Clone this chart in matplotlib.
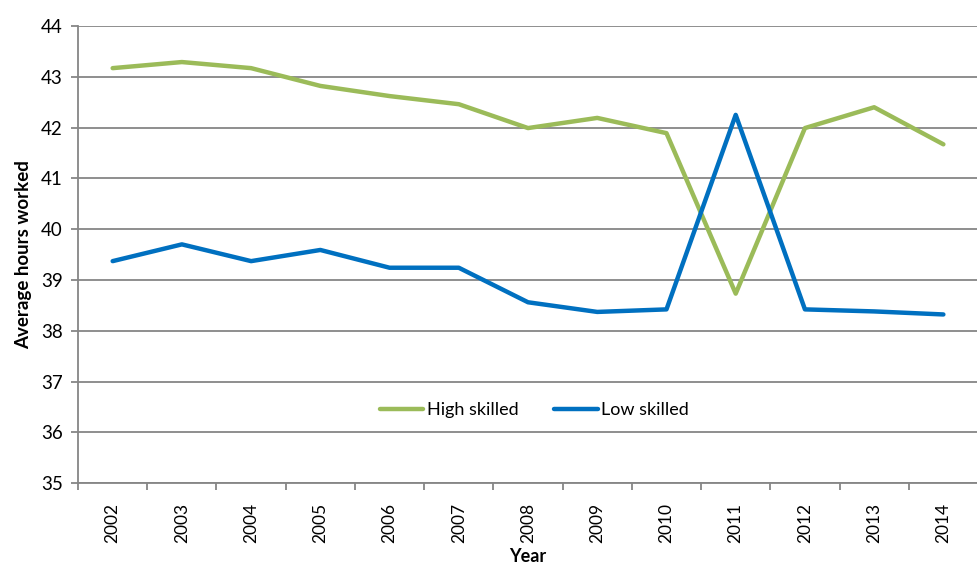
import matplotlib.pyplot as plt
import numpy as np

plt.rcParams['font.family'] = ['Lato', 'DejaVu Sans']

# average weekly hours by skill level
years = ['2002', '2003', '2004', '2005', '2006', '2007', '2008',
         '2009', '2010', '2011', '2012', '2013', '2014']
high_skilled = [43.17, 43.29, 43.17, 42.82, 42.62, 42.46, 41.99,
                42.19, 41.89, 38.73, 41.99, 42.40, 41.67]
low_skilled = [39.37, 39.70, 39.37, 39.59, 39.24, 39.24, 38.56,
               38.37, 38.42, 42.25, 38.42, 38.38, 38.32]

GREEN = '#9BBB59'
BLUE = '#0070C0'
GRID = '#868686'

fig = plt.figure(figsize=(9.78, 5.65), dpi=100)
ax = fig.add_axes([0.0798, 0.145, 0.9202, 0.809])

x = np.arange(len(years))
ax.plot(x, high_skilled, color=GREEN, linewidth=3.2, solid_capstyle='round',
        solid_joinstyle='round', label='High skilled', zorder=3)
ax.plot(x, low_skilled, color=BLUE, linewidth=3.2, solid_capstyle='round',
        solid_joinstyle='round', label='Low skilled', zorder=3)

ax.set_xlim(-0.5, len(years) - 0.5)
ax.set_ylim(35, 44)
ax.set_yticks(range(35, 45))
ax.yaxis.grid(True, color=GRID, linewidth=1.3)
ax.set_axisbelow(True)

# category labels centred, tick marks on the boundaries
ax.set_xticks(x)
ax.set_xticklabels(years, rotation=90)
ax.set_xticks(np.arange(-0.5, len(years)), minor=True)
ax.tick_params(axis='x', which='major', length=0, pad=14, labelsize=12.5, colors='black')
ax.tick_params(axis='x', which='minor', length=5, width=1.3, color=GRID, direction='out')
ax.tick_params(axis='y', length=5, width=1.3, color=GRID, pad=6, labelsize=13.5)

for side in ['top', 'right']:
    ax.spines[side].set_visible(False)
for side in ['left', 'bottom']:
    ax.spines[side].set_color(GRID)
    ax.spines[side].set_linewidth(1.3)

ax.set_ylabel('Average hours worked', fontsize=13.5, fontweight='bold', labelpad=6)
ax.set_xlabel('Year', fontsize=13, fontweight='bold', labelpad=4)

ax.legend(loc='center', bbox_to_anchor=(0.507, 0.16), ncol=2, frameon=False,
          fontsize=13, handlelength=2.4, handletextpad=0.2, columnspacing=2.0)

fig.savefig('out.png', dpi=100)
